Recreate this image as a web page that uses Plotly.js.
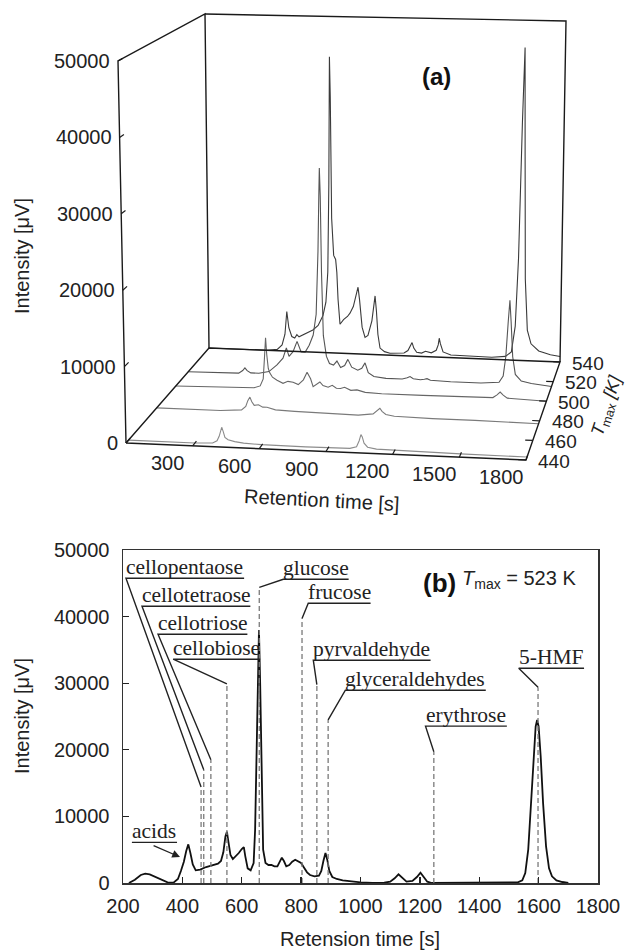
<!DOCTYPE html>
<html><head><meta charset="utf-8">
<script src="https://cdn.plot.ly/plotly-3.0.1.min.js"></script>
<style>html,body{margin:0;padding:0;background:#fff}</style>
</head><body><div id="chart" style="width:626px;height:952px"></div>
<script>
// ---------------- DATA: panel (b), Tmax = 523 K ----------------
const retTimeB = [220,240,260,275,290,310,330,350,370,385,395,405,413,420,427,435,445,460,480,500,520,530,538,545,550,555,562,570,580,590,600,607,612,620,630,640,645,650,655,658,662,667,672,680,690,700,710,720,728,735,742,750,760,770,780,790,800,810,820,830,845,860,868,875,882,888,895,905,920,940,970,1000,1040,1080,1100,1115,1128,1140,1155,1175,1190,1202,1212,1225,1240,1300,1400,1500,1530,1545,1555,1565,1575,1583,1590,1595,1600,1607,1615,1625,1635,1645,1660,1680,1700];
const intensityB = [0,500,1200,1400,1300,900,400,100,50,600,1800,3200,4800,5800,4500,2800,1900,2000,2400,2700,2900,3300,4600,7000,7700,6200,4200,3600,4000,4500,5100,5400,4000,2200,1900,3000,8000,22000,36000,38000,30000,15000,5000,3000,2700,2700,2500,2500,3200,3800,3300,2500,2700,3200,3500,3300,3000,2300,1600,1200,1000,1100,1800,3300,4500,3500,1800,900,600,400,200,100,0,50,200,700,1300,800,200,300,900,1550,900,200,0,0,0,0,100,400,1500,5000,12000,19000,23500,24500,23500,19000,12000,5500,2200,1000,400,150,0];

const peakNames = ['cellopentaose','cellotetraose','cellotriose','cellobiose','glucose','frucose','pyrvaldehyde','glyceraldehydes','erythrose','5-HMF'];
const peakTimes = [463,472,496,550,659,803,853,891,1247,1598];
const peakTops  = [14400,17000,18500,29900,44400,39700,29800,24500,19700,29400];

// ---------------- DATA: panel (a), waterfall ----------------
const tmaxRuns = [443,477,500,515,540];
const run443T = [0,300,380,400,410,416,422,428,436,450,480,520,600,800,1000,1030,1042,1050,1056,1064,1080,1120,1300,1500,1800];
const run443I = [0,0,100,400,1000,1800,2200,1700,900,600,400,250,150,100,150,400,1200,2000,1700,900,400,200,100,50,0];
const run477T = [0,300,400,420,430,440,448,460,480,500,520,560,650,800,950,1020,1040,1052,1062,1080,1120,1300,1500,1800];
const run477I = [0,0,200,700,1500,2000,1400,900,1000,700,700,400,300,200,150,400,900,1200,800,400,200,100,100,0];
const run500T = [0,300,380,410,425,432,438,443,450,457,470,492,521,545,570,595,620,638,655,667,685,700,715,740,760,780,800,820,850,880,920,1000,1200,1400,1540,1560,1575,1590,1610,1800];
const run500I = [0,100,200,500,1500,4500,7300,5000,3000,2400,1800,1400,1000,1300,1200,900,1600,2700,1800,700,1100,1400,900,700,1000,600,600,800,400,500,200,100,100,100,200,600,1000,600,200,0];
const run515T = [0,200,250,270,281,292,310,350,400,440,470,487,500,520,540,560,580,600,620,635,645,650,653,657,662,670,685,700,720,737,755,775,791,810,840,860,876,892,920,980,1060,1085,1099,1115,1150,1170,1183,1200,1300,1450,1540,1560,1572,1582,1589,1596,1606,1620,1650,1700,1800];
const run515I = [0,0,100,500,900,500,200,200,500,1500,2500,4000,2800,3500,5000,3500,3500,4500,6000,9000,18000,26000,30000,26000,15000,6000,3000,2000,1800,2400,1500,1800,2700,1600,1200,1500,2300,900,400,200,200,400,600,300,200,300,400,200,100,100,300,1200,4000,9000,12000,9000,4000,1500,600,300,0];
const run540T = [0,300,350,375,390,400,410,425,440,451,462,480,510,533,560,585,600,610,616,620,624,630,640,650,656,662,672,690,710,723,740,755,764,772,785,800,815,835,845,851,858,866,877,900,928,960,1000,1020,1032,1041,1050,1065,1090,1110,1140,1165,1175,1180,1186,1200,1240,1350,1450,1520,1550,1568,1580,1590,1598,1606,1616,1630,1650,1690,1750,1800];
const run540I = [0,0,200,900,2500,5900,3500,2200,2000,2500,2200,2500,3000,3300,4000,5500,7500,12000,25000,44000,38000,20000,14500,13900,12000,8000,4300,5000,5500,6000,7000,9000,9900,8000,4000,2500,2800,5000,7500,8700,6500,3000,1000,500,300,300,400,800,1600,2000,1200,600,500,800,600,1000,1800,2800,2000,800,400,300,300,500,1200,5000,15000,35000,46000,30000,12000,4500,2500,1500,1000,800];

const timeTicksA = [300,600,900,1200,1500,1800];
const intensityTicks = [0,10000,20000,30000,40000,50000];
const tmaxTicks = [440,460,480,500,520,540];

// ---------------- pseudo-3D projection for panel (a) (pixel space) ----------------
const BOX = {tMin:0, tMax:1800, TMin:440, TMax:540, IMax:50000};
const CX = {FL:126, FR:526, BL:209, BR:560};
const CY = {FL:443, FR:460, BL:348, BR:362};
const HGT = {FL:382, FR:390, BL:334, BR:341};
const TILT = {FL:-8, FR:4, BL:-4, BR:6};
function bil(q,u,v){ return (1-u)*(1-v)*q.FL + u*(1-v)*q.FR + (1-u)*v*q.BL + u*v*q.BR; }
function proj(t,T,I){
  const u=(t-BOX.tMin)/(BOX.tMax-BOX.tMin), v=(T-BOX.TMin)/(BOX.TMax-BOX.TMin), h=I/BOX.IMax;
  return [bil(CX,u,v)+bil(TILT,u,v)*h, bil(CY,u,v)-bil(HGT,u,v)*h];
}
function polyline(pts){ const xs=[],ys=[]; pts.forEach(p=>{ if(p===null){xs.push(null);ys.push(null);} else {const q=proj(p[0],p[1],p[2]); xs.push(q[0]); ys.push(q[1]);} }); return {x:xs,y:ys}; }

const traces = [];
const runs = [[run540T,run540I,'#3a3a3a'],[run515T,run515I,'#555'],[run500T,run500I,'#666'],[run477T,run477I,'#7a7a7a'],[run443T,run443I,'#8c8c8c']];
const runTmax = [tmaxRuns[4],tmaxRuns[3],tmaxRuns[2],tmaxRuns[1],tmaxRuns[0]];
runs.forEach((r,k)=>{
  const pl = polyline(r[0].map((t,i)=>[t,runTmax[k],r[1][i]]));
  traces.push({type:'scatter',mode:'lines',x:pl.x,y:pl.y,xaxis:'x2',yaxis:'y2',line:{color:r[2],width:1.1},hoverinfo:'skip'});
});
// frame
const B=BOX;
const frame = polyline([
  [B.tMin,B.TMin,0],[B.tMax,B.TMin,0],[B.tMax,B.TMax,0],[B.tMin,B.TMax,0],[B.tMin,B.TMin,0],null,
  [B.tMin,B.TMin,0],[B.tMin,B.TMin,B.IMax],[B.tMin,B.TMax,B.IMax],[B.tMin,B.TMax,0],null,
  [B.tMin,B.TMax,B.IMax],[B.tMax,B.TMax,B.IMax],[B.tMax,B.TMax,0]
]);
traces.push({type:'scatter',mode:'lines',x:frame.x,y:frame.y,xaxis:'x2',yaxis:'y2',line:{color:'#1a1a1a',width:1.4},hoverinfo:'skip'});
const tickPts=[];
timeTicksA.forEach(t=>{tickPts.push([t,B.TMin,0],[t,B.TMin+5,0],null);});
intensityTicks.forEach(I=>{tickPts.push([B.tMin,B.TMin,I],[B.tMin,B.TMin+5,I],null);});
tmaxTicks.forEach(T=>{tickPts.push([B.tMax,T,0],[B.tMax-35,T,0],null);});
const tk=polyline(tickPts);
traces.push({type:'scatter',mode:'lines',x:tk.x,y:tk.y,xaxis:'x2',yaxis:'y2',line:{color:'#1a1a1a',width:1.2},hoverinfo:'skip'});

// ---------------- panel (b) traces ----------------
const dashX=[],dashY=[];
peakTimes.forEach((t,i)=>{dashX.push(t,t,null);dashY.push(0,peakTops[i],null);});
traces.push({type:'scatter',mode:'lines',x:retTimeB,y:intensityB,xaxis:'x',yaxis:'y',line:{color:'#111',width:1.8},hoverinfo:'skip'});
traces.push({type:'scatter',mode:'lines',x:dashX,y:dashY,xaxis:'x',yaxis:'y',line:{color:'#7a7a7a',width:1.3,dash:'5px,3px'},hoverinfo:'skip'});

// label layout (positions in data units of panel b): underline start/end and height
const labelPos = {
  'cellopentaose':[210,608,45750],'cellotetraose':[264,629,41550],'cellotriose':[318,619,37350],
  'cellobiose':[369,662,33600],'glucose':[740,960,45600],'frucose':[824,1034,42000],
  'pyrvaldehyde':[841,1236,33450],'glyceraldehydes':[949,1422,28950],'erythrose':[1219,1493,23550],
  '5-HMF':[1533,1753,32250]
};
const leadX=[],leadY=[];
const annotations=[];
const serif={family:'Liberation Serif, Times New Roman, serif',size:21.5,color:'#222'};
peakNames.forEach((n,i)=>{
  const L=labelPos[n];
  leadX.push(peakTimes[i],L[0],L[1],null); leadY.push(peakTops[i],L[2],L[2],null);
  annotations.push({xref:'x',yref:'y',x:L[0],y:L[2],text:n,showarrow:false,xanchor:'left',yanchor:'bottom',xshift:-2,yshift:-3,font:serif});
});
// acids
leadX.push(230,382,null); leadY.push(6100,6100,null);
annotations.push({xref:'x',yref:'y',x:230,y:6100,text:'acids',showarrow:false,xanchor:'left',yanchor:'bottom',xshift:-2,yshift:-3,font:serif});
annotations.push({xref:'x',yref:'y',axref:'x',ayref:'y',x:392,y:3900,ax:298,ay:5700,text:'',showarrow:true,arrowhead:2,arrowsize:1.2,arrowwidth:1.3,arrowcolor:'#222'});
traces.push({type:'scatter',mode:'lines',x:leadX,y:leadY,xaxis:'x',yaxis:'y',line:{color:'#222',width:1.4},hoverinfo:'skip'});

// ---------------- panel (a) text ----------------
const sans={family:'Liberation Sans, Arial, sans-serif',size:20,color:'#222'};
intensityTicks.forEach(I=>{const p=proj(B.tMin,B.TMin,I);
  annotations.push({xref:'x2',yref:'y2',x:p[0]-6,y:p[1],text:String(I),showarrow:false,xanchor:'right',yanchor:'middle',font:sans});});
timeTicksA.forEach(t=>{const p=proj(t,B.TMin,0);
  annotations.push({xref:'x2',yref:'y2',x:p[0]-25,y:p[1]+17,text:String(t),showarrow:false,xanchor:'center',yanchor:'middle',font:sans});});
tmaxTicks.forEach(T=>{const p=proj(B.tMax,T,0);
  annotations.push({xref:'x2',yref:'y2',x:p[0]+28,y:p[1]+1,text:String(T),showarrow:false,xanchor:'center',yanchor:'middle',font:{family:sans.family,size:19,color:'#222'}});});
annotations.push({xref:'x2',yref:'y2',x:22,y:256,text:'Intensity [μV]',textangle:-90,showarrow:false,font:sans});
annotations.push({xref:'x2',yref:'y2',x:322,y:500,text:'Retention time [s]',textangle:3,showarrow:false,font:sans});
annotations.push({xref:'x2',yref:'y2',x:607,y:406,text:'<i>T</i><sub>max</sub> <i>[K]</i>',textangle:-72,showarrow:false,borderpad:0,font:{family:sans.family,size:18,color:'#222'}});
annotations.push({xref:'x2',yref:'y2',x:436,y:76,text:'<b>(a)</b>',showarrow:false,font:{family:'Liberation Sans, Arial, sans-serif',size:24,color:'#111'}});
// panel (b) text
annotations.push({xref:'x2',yref:'y2',x:22,y:716,text:'Intensity [μV]',textangle:-90,showarrow:false,font:sans});
annotations.push({xref:'x2',yref:'y2',x:360,y:939,text:'Retension time [s]',showarrow:false,font:sans});
annotations.push({xref:'x2',yref:'y2',x:458,y:583,text:'<b>(b)</b>',xanchor:'right',showarrow:false,font:{family:'Liberation Sans, Arial, sans-serif',size:26,color:'#111'}});
annotations.push({xref:'x2',yref:'y2',x:460,y:579,text:'<i>T</i><sub>max</sub> = 523 K',xanchor:'left',showarrow:false,font:sans});

const axisCommon={showgrid:false,zeroline:false,showline:true,linecolor:'#333',linewidth:1.5,mirror:true,
  ticks:'inside',ticklen:6,tickwidth:1.3,tickcolor:'#222',tickfont:sans};
const layout={
  width:626,height:952,margin:{l:0,r:0,t:0,b:0},paper_bgcolor:'#fff',plot_bgcolor:'rgba(0,0,0,0)',
  showlegend:false,hovermode:false,
  xaxis:Object.assign({},axisCommon,{domain:[123/626,598/626],range:[200,1800],tick0:200,dtick:200,anchor:'y',ticklabelstandoff:4}),
  yaxis:Object.assign({},axisCommon,{domain:[69/952,402/952],range:[0,50000],tickvals:intensityTicks,ticktext:intensityTicks.map(String),anchor:'x',ticklabelstandoff:8}),
  xaxis2:{domain:[0,1],range:[0,626],visible:false,anchor:'y2'},
  yaxis2:{domain:[0,1],range:[952,0],visible:false,anchor:'x2'},
  annotations:annotations
};
Plotly.newPlot('chart',traces,layout,{staticPlot:true});
</script></body></html>
